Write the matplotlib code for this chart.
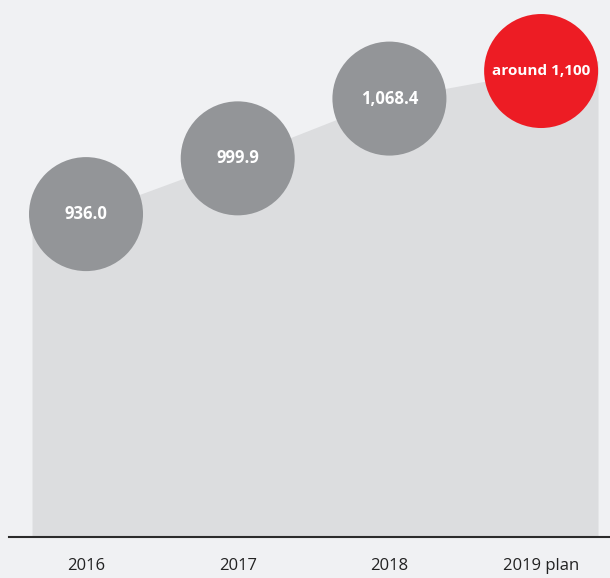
import matplotlib.pyplot as plt

# data
years = ["2016", "2017", "2018", "2019 plan"]
values = [936.0, 999.9, 1068.4, 1100.0]
value_labels = ["936.0", "999.9", "1,068.4", "around 1,100"]
bubble_colors = ["#939598", "#939598", "#939598", "#ed1c24"]
label_sizes = [12, 12, 12, 11]

bg = "#f0f1f3"
area = "#dcdddf"

fig = plt.figure(figsize=(6.10, 5.78), dpi=100)
fig.patch.set_facecolor(bg)
ax = fig.add_axes([0, 0, 1, 1])
ax.set_facecolor(bg)

x = list(range(len(years)))
ax.set_xlim(-0.567, 3.454)
ax.set_ylim(518.9, 1181.4)
base = 565.9

# shaded area under the line, extended to the edges
x_left, x_right = -0.356, 3.375
y_left = values[0] - (values[1] - values[0]) * (-x_left)
y_right = values[-1] + (values[-1] - values[-2]) * (x_right - 3)
ax.fill_between([x_left] + x + [x_right], base, [y_left] + values + [y_right],
                color=area, lw=0, zorder=1)

ax.plot([-0.51, 3.454], [base, base], color="#2b2b2b", lw=1.5, zorder=2)

ax.scatter(x, values, s=(114 * 0.72) ** 2, c=bubble_colors, lw=0, zorder=3)
for xi, v, lab, fs in zip(x, values, value_labels, label_sizes):
    ax.text(xi, v, lab, ha="center", va="center", color="white",
            fontsize=fs, fontweight="bold", family="Open Sans", zorder=4)

for xi, yr in zip(x, years):
    ax.text(xi, 518.9 + 12 / 0.8725, yr, ha="center", va="center",
            color="#222222", fontsize=12, family="Open Sans")

ax.axis("off")
fig.savefig("out.png", dpi=100, facecolor=bg)
